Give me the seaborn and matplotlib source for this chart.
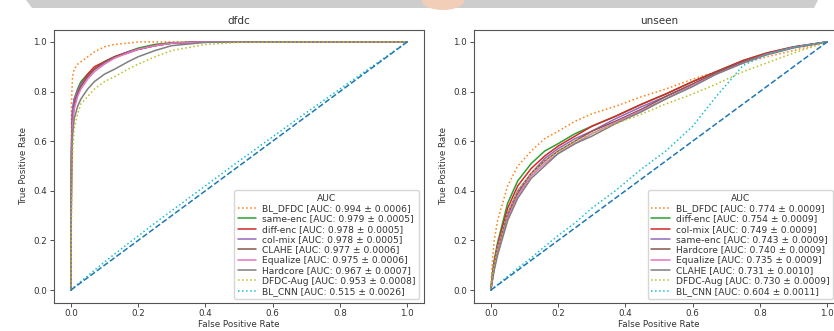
import matplotlib
matplotlib.use("Agg")
import matplotlib.pyplot as plt
import seaborn as sns
import pandas as pd
from matplotlib.patches import Polygon, Ellipse

sns.set_theme(style="white")
plt.rcParams['font.family'] = ['DejaVu Sans']

# ---------------- data: dfdc panel ----------------
fpr_dfdc = [0, 0.002, 0.005, 0.01, 0.02, 0.03, 0.05, 0.07, 0.1, 0.13, 0.17, 0.2, 0.25, 0.3, 0.4, 0.5, 0.7, 1.0]
dfdc_bl_dfdc = [0, 0.75, 0.86, 0.89, 0.91, 0.92, 0.94, 0.96, 0.98, 0.99, 0.995, 1.0, 1, 1, 1, 1, 1, 1]
dfdc_same_enc = [0, 0.55, 0.72, 0.77, 0.81, 0.84, 0.87, 0.89, 0.92, 0.94, 0.96, 0.975, 0.99, 0.997, 1, 1, 1, 1]
dfdc_diff_enc = [0, 0.55, 0.71, 0.76, 0.80, 0.83, 0.87, 0.90, 0.92, 0.94, 0.96, 0.97, 0.985, 0.995, 1, 1, 1, 1]
dfdc_col_mix = [0, 0.60, 0.73, 0.77, 0.80, 0.83, 0.86, 0.89, 0.915, 0.935, 0.96, 0.97, 0.985, 0.995, 1, 1, 1, 1]
dfdc_clahe = [0, 0.50, 0.68, 0.74, 0.79, 0.82, 0.86, 0.89, 0.92, 0.94, 0.955, 0.97, 0.985, 0.995, 1, 1, 1, 1]
dfdc_equalize = [0, 0.50, 0.66, 0.73, 0.78, 0.81, 0.85, 0.88, 0.91, 0.935, 0.955, 0.97, 0.985, 0.995, 1, 1, 1, 1]
dfdc_hardcore = [0, 0.45, 0.62, 0.69, 0.74, 0.77, 0.81, 0.84, 0.87, 0.89, 0.92, 0.94, 0.965, 0.985, 0.998, 1, 1, 1]
dfdc_dfdc_aug = [0, 0.30, 0.55, 0.65, 0.71, 0.75, 0.78, 0.81, 0.84, 0.86, 0.89, 0.91, 0.94, 0.965, 0.99, 0.998, 1, 1]
dfdc_bl_cnn = [0, 0.002, 0.006, 0.012, 0.024, 0.035, 0.057, 0.08, 0.113, 0.145, 0.187, 0.218, 0.27, 0.32, 0.42, 0.52, 0.715, 1.0]

dfdc_names = ["BL_DFDC", "same-enc", "diff-enc", "col-mix", "CLAHE", "Equalize", "Hardcore", "DFDC-Aug", "BL_CNN"]
dfdc_auc = ["0.994 ± 0.0006", "0.979 ± 0.0005", "0.978 ± 0.0005", "0.978 ± 0.0005", "0.977 ± 0.0006",
            "0.975 ± 0.0006", "0.967 ± 0.0007", "0.953 ± 0.0008", "0.515 ± 0.0026"]
dfdc_tprs = [dfdc_bl_dfdc, dfdc_same_enc, dfdc_diff_enc, dfdc_col_mix, dfdc_clahe,
             dfdc_equalize, dfdc_hardcore, dfdc_dfdc_aug, dfdc_bl_cnn]

# ---------------- data: unseen panel ----------------
fpr_unseen = [0, 0.005, 0.01, 0.02, 0.05, 0.08, 0.12, 0.16, 0.2, 0.25, 0.3, 0.37, 0.45, 0.52, 0.6, 0.67, 0.75, 0.82, 0.9, 1.0]
un_bl_dfdc = [0, 0.12, 0.20, 0.28, 0.42, 0.50, 0.56, 0.61, 0.64, 0.68, 0.71, 0.74, 0.78, 0.81, 0.85, 0.88, 0.915, 0.94, 0.965, 1.0]
un_diff_enc = [0, 0.07, 0.12, 0.19, 0.35, 0.44, 0.51, 0.56, 0.59, 0.63, 0.66, 0.70, 0.75, 0.79, 0.84, 0.88, 0.925, 0.955, 0.98, 1.0]
un_col_mix = [0, 0.06, 0.11, 0.18, 0.33, 0.42, 0.49, 0.54, 0.58, 0.62, 0.66, 0.70, 0.75, 0.79, 0.84, 0.88, 0.925, 0.955, 0.98, 1.0]
un_same_enc = [0, 0.05, 0.10, 0.17, 0.31, 0.40, 0.47, 0.53, 0.57, 0.61, 0.64, 0.69, 0.74, 0.78, 0.83, 0.875, 0.92, 0.95, 0.978, 1.0]
un_hardcore = [0, 0.05, 0.09, 0.16, 0.30, 0.39, 0.47, 0.52, 0.56, 0.60, 0.64, 0.68, 0.73, 0.78, 0.83, 0.875, 0.92, 0.95, 0.978, 1.0]
un_equalize = [0, 0.045, 0.085, 0.15, 0.29, 0.38, 0.46, 0.51, 0.55, 0.59, 0.63, 0.675, 0.725, 0.77, 0.825, 0.87, 0.915, 0.95, 0.977, 1.0]
un_clahe = [0, 0.04, 0.08, 0.14, 0.28, 0.37, 0.45, 0.50, 0.55, 0.59, 0.62, 0.67, 0.72, 0.77, 0.82, 0.87, 0.915, 0.948, 0.976, 1.0]
un_dfdc_aug = [0, 0.06, 0.10, 0.17, 0.31, 0.40, 0.47, 0.52, 0.56, 0.60, 0.63, 0.67, 0.71, 0.75, 0.79, 0.83, 0.88, 0.915, 0.955, 1.0]
un_bl_cnn = [0, 0.005, 0.011, 0.022, 0.055, 0.088, 0.13, 0.175, 0.22, 0.27, 0.33, 0.40, 0.49, 0.56, 0.66, 0.78, 0.905, 0.95, 0.978, 1.0]

unseen_names = ["BL_DFDC", "diff-enc", "col-mix", "same-enc", "Hardcore", "Equalize", "CLAHE", "DFDC-Aug", "BL_CNN"]
unseen_auc = ["0.774 ± 0.0009", "0.754 ± 0.0009", "0.749 ± 0.0009", "0.743 ± 0.0009", "0.740 ± 0.0009",
              "0.735 ± 0.0009", "0.731 ± 0.0010", "0.730 ± 0.0009", "0.604 ± 0.0011"]
unseen_tprs = [un_bl_dfdc, un_diff_enc, un_col_mix, un_same_enc, un_hardcore,
               un_equalize, un_clahe, un_dfdc_aug, un_bl_cnn]

diag = [0, 1]

# ---------------- styling ----------------
colors = ["tab:orange", "tab:green", "tab:red", "tab:purple", "tab:brown",
          "tab:pink", "tab:gray", "tab:olive", "tab:cyan"]
styles = [":", "-", "-", "-", "-", "-", "-", ":", ":"]
txt = "#333333"

W, H = 834, 331
fig = plt.figure(figsize=(W / 100, H / 100), dpi=100)
fig.patch.set_facecolor("white")

# slide decoration at the top
fig.patches.append(Polygon([[26 / W, 1], [818 / W, 1], [814 / W, 1 - 8 / H], [32 / W, 1 - 8 / H]],
                           closed=True, transform=fig.transFigure, facecolor="#cdcdcd",
                           edgecolor="none", zorder=0))
fig.patches.append(Ellipse((443 / W, 1 - 1 / H), 42 / W, 18 / H, transform=fig.transFigure,
                           facecolor="#f2cdb8", edgecolor="none", zorder=0.5))

top, bot = 29.5, 302.5
axw = 370
axpos = [[54 / W, 1 - bot / H, axw / W, (bot - top) / H],
         [474 / W, 1 - bot / H, axw / W, (bot - top) / H]]
# legend anchors (axes fraction): right panel kept inside the visible figure
leg_anchor = [(1 - 5 / axw, 0.012), ((833 - 474) / axw, 0.012)]

panels = [("dfdc", fpr_dfdc, dfdc_names, dfdc_auc, dfdc_tprs),
          ("unseen", fpr_unseen, unseen_names, unseen_auc, unseen_tprs)]

for pos, anchor, (title, fpr, names, aucs, tprs) in zip(axpos, leg_anchor, panels):
    ax = fig.add_axes(pos)
    for name, auc, tpr, c, ls in zip(names, aucs, tprs, colors, styles):
        df = pd.DataFrame({"fpr": fpr, "tpr": tpr})
        sns.lineplot(data=df, x="fpr", y="tpr", ax=ax, color=c, linestyle=ls, linewidth=1.1,
                     estimator=None, sort=False, label=f"{name} [AUC: {auc}]")
    sns.lineplot(x=diag, y=diag, ax=ax, color="tab:blue", linestyle="--", linewidth=1.1,
                 estimator=None, legend=False)
    ax.set_xlim(-0.05, 1.05)
    ax.set_ylim(-0.05, 1.05)
    ax.set_xticks([0, 0.2, 0.4, 0.6, 0.8, 1.0])
    ax.set_yticks([0, 0.2, 0.4, 0.6, 0.8, 1.0])
    ax.set_xticklabels(["0.0", "0.2", "0.4", "0.6", "0.8", "1.0"])
    ax.set_yticklabels(["0.0", "0.2", "0.4", "0.6", "0.8", "1.0"])
    ax.tick_params(axis="both", labelsize=6.3, colors=txt, length=3, width=0.6, pad=2,
                   bottom=True, left=True)
    ax.set_xlabel("False Positive Rate", fontsize=6.3, color=txt, labelpad=1)
    ax.set_ylabel("True Positive Rate", fontsize=6.3, color=txt, labelpad=4)
    ax.set_title(title, fontsize=7.5, color=txt, pad=4)
    for s in ax.spines.values():
        s.set_color("#555555")
        s.set_linewidth(0.8)
    leg = ax.legend(title="AUC", loc="lower right", bbox_to_anchor=anchor,
                    fontsize=6.6, title_fontsize=6.6,
                    frameon=True, framealpha=0.8, edgecolor="#cccccc", fancybox=True,
                    handlelength=2.0, labelspacing=0.15, borderpad=0.35,
                    handletextpad=0.7, borderaxespad=0.0)
    for t in leg.get_texts():
        t.set_color(txt)
    leg.get_title().set_color(txt)

fig.savefig("out.png", dpi=100, facecolor="white")
